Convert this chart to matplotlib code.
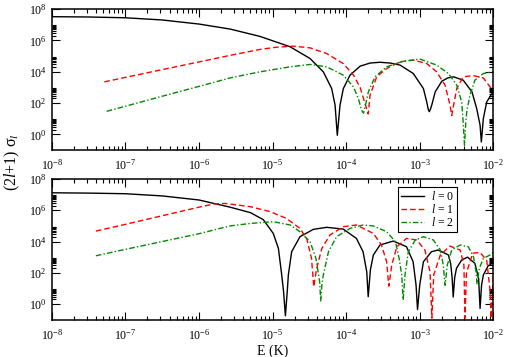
import numpy as np
import matplotlib
matplotlib.use('Agg')
import matplotlib.pyplot as plt
from matplotlib.ticker import LogFormatterSciNotation, NullFormatter

# values, as log10(E) and log10((2l+1) sigma_l)
# top panel
top_l0_logE = [-8.0, -7.5, -7.0, -6.5, -6.0, -5.577, -5.17, -4.762, -4.49, -4.31, -4.196, -4.15,
               -4.12, -4.083, -4.038, -3.947, -3.81, -3.675, -3.54, -3.40, -3.267, -3.087, -2.95,
               -2.905, -2.885, -2.87, -2.855, -2.837, -2.79, -2.70, -2.62, -2.54, -2.41, -2.29,
               -2.226, -2.18, -2.163, -2.136, -2.09, -2.0]
top_l0_logS = [7.51, 7.49, 7.44, 7.3, 7.04, 6.72, 6.25, 5.59, 4.84, 3.99, 2.92, 1.86,
               -0.06, 1.86, 2.92, 3.78, 4.35, 4.55, 4.6, 4.55, 4.42, 3.88, 2.92,
               2.07, 1.6, 1.45, 1.6, 1.86, 2.71, 3.39, 3.6, 3.67, 3.46, 2.71,
               1.64, 0.58, -0.49, 1.0, 2.07, 2.75]

top_l1_logE = [-7.285, -6.5, -6.0, -5.577, -5.17, -4.95, -4.72, -4.49, -4.265, -4.04, -3.90, -3.81,
               -3.75, -3.70, -3.675, -3.585, -3.45, -3.267, -3.087, -2.905, -2.77, -2.656, -2.588,
               -2.565, -2.54, -2.497, -2.41, -2.27, -2.136, -2.045, -2.0]
top_l1_logS = [3.35, 4.13, 4.62, 5.04, 5.42, 5.56, 5.63, 5.52, 5.16, 4.52, 3.78, 3.0,
               2.07, 1.3, 2.5, 3.67, 4.2, 4.63, 4.74, 4.52, 3.99, 3.14, 1.86,
               1.2, 1.86, 2.92, 3.67, 3.75, 3.6, 3.03, 2.8]

top_l2_logE = [-7.253, -6.5, -6.0, -5.577, -5.17, -4.76, -4.49, -4.265, -4.04, -3.90, -3.834, -3.79,
               -3.765, -3.74, -3.698, -3.607, -3.45, -3.222, -2.995, -2.77, -2.61, -2.497, -2.43,
               -2.41, -2.392, -2.375, -2.36, -2.317, -2.25, -2.136, -2.0]
top_l2_logS = [1.47, 2.43, 3.06, 3.6, 3.99, 4.31, 4.46, 4.31, 3.78, 3.03, 2.29, 1.54,
               1.35, 1.8, 2.71, 3.67, 4.31, 4.67, 4.8, 4.42, 3.88, 3.14, 2.07,
               0.79, -0.7, 0.7, 1.5, 2.5, 3.46, 3.88, 4.0]

# bottom panel
bot_l0_logE = [-8.0, -7.5, -7.0, -6.5, -6.0, -5.577, -5.30, -5.125, -4.99, -4.92, -4.875, -4.85,
               -4.825, -4.80, -4.785, -4.74, -4.627, -4.446, -4.265, -4.04, -3.86, -3.77, -3.72,
               -3.70, -3.67, -3.63, -3.54, -3.36, -3.18, -3.09, -3.05, -3.03, -3.0, -2.95, -2.84,
               -2.75, -2.61, -2.58, -2.56, -2.545, -2.525, -2.50, -2.43, -2.35, -2.25, -2.20,
               -2.18, -2.16, -2.136, -2.07, -2.0]
bot_l0_logS = [7.12, 7.1, 7.06, 6.92, 6.66, 6.2, 5.85, 5.4, 4.52, 3.56, 1.86, 0.8,
               -0.75, 0.8, 1.86, 3.35, 4.31, 4.78, 4.91, 4.8, 4.2, 3.35, 2.07,
               0.47, 2.2, 3.14, 3.78, 4.03, 3.67, 2.71, 1.22, -0.35, 1.22, 2.71, 3.35,
               3.46, 3.14, 2.6, 1.7, 0.45, 1.7, 2.3, 2.82, 3.0, 2.6, 1.64,
               -0.28, 1.2, 1.86, 2.45, 2.65]

bot_l1_logE = [-7.40, -7.0, -6.5, -6.0, -5.80, -5.645, -5.577, -5.30, -5.03, -4.81, -4.627, -4.536,
               -4.47, -4.44, -4.40, -4.33, -4.22, -4.04, -3.86, -3.63, -3.52, -3.45, -3.42,
               -3.38, -3.31, -3.18, -3.04, -2.93, -2.86, -2.835, -2.81, -2.72, -2.59, -2.45,
               -2.40, -2.385, -2.365, -2.28, -2.18, -2.09, -2.045, -2.03, -2.0]
bot_l1_logS = [4.67, 5.1, 5.65, 6.2, 6.4, 6.44, 6.4, 6.23, 5.91, 5.48, 4.84, 4.2,
               2.92, 1.1, 2.29, 3.56, 4.42, 4.95, 5.06, 4.52, 3.78, 2.71, 1.15,
               2.5, 3.67, 4.2, 4.1, 3.46, 2.07, -0.9, 1.86, 3.14, 3.71, 3.46,
               2.5, -0.9, 2.0, 3.26, 3.3, 2.8, 0.9, -0.9, 1.8]

bot_l2_logE = [-7.40, -7.0, -6.5, -6.0, -5.577, -5.30, -4.99, -4.76, -4.627, -4.49, -4.41, -4.36,
               -4.345, -4.33, -4.31, -4.24, -4.13, -3.947, -3.77, -3.63, -3.45, -3.33, -3.28,
               -3.245, -3.225, -3.20, -3.155, -3.06, -2.95, -2.815, -2.72, -2.68, -2.656, -2.625,
               -2.565, -2.45, -2.34, -2.27, -2.235, -2.222, -2.19, -2.136, -2.045, -2.0]
bot_l2_logS = [3.09, 3.5, 4.0, 4.5, 5.0, 5.16, 5.27, 5.06, 4.63, 3.99, 2.92, 1.43,
               0.2, 1.2, 1.86, 3.35, 4.31, 4.84, 5.06, 5.0, 4.63, 3.99, 2.92,
               1.86, 0.26, 1.86, 3.35, 4.1, 4.31, 4.1, 3.46, 2.5, 1.2, 2.5,
               3.46, 3.78, 3.67, 3.03, 2.07, 1.3, 2.29, 2.92, 3.14, 3.3]

legend_labels = [r'$l$ = 0', r'$l$ = 1', r'$l$ = 2']

# tick positions (only inside the view)
x_major = [10.0 ** n for n in range(-8, -1)]
x_minor = [k * 10.0 ** n for n in range(-8, -2) for k in range(2, 10)]
y_major = [10.0 ** n for n in range(0, 9, 2)]
y_minor = [k * 10.0 ** n for n in range(0, 8, 2) for k in range(2, 10)]

plt.rcParams['font.family'] = ['Liberation Serif', 'DejaVu Serif']
plt.rcParams['mathtext.fontset'] = 'custom'
plt.rcParams['mathtext.rm'] = 'Liberation Serif'
plt.rcParams['mathtext.it'] = 'Liberation Serif:italic'
plt.rcParams['font.size'] = 8.5

green = '#008b00'
styles = [dict(color='black', ls='-'),
          dict(color='red', dashes=(4.0, 2.2)),
          dict(color=green, dashes=(4.0, 1.6, 1.0, 1.6))]

fig = plt.figure(figsize=(5.05, 3.57), dpi=100)
ax1 = fig.add_axes([0.1024, 0.5798, 0.8745, 0.395])
ax2 = fig.add_axes([0.1024, 0.1045, 0.8745, 0.394])

panels = [(ax1, [(top_l0_logE, top_l0_logS), (top_l1_logE, top_l1_logS), (top_l2_logE, top_l2_logS)]),
          (ax2, [(bot_l0_logE, bot_l0_logS), (bot_l1_logE, bot_l1_logS), (bot_l2_logE, bot_l2_logS)])]

for ax, curves in panels:
    for (le, ls_), st, lab in zip(curves, styles, legend_labels):
        ax.plot(10 ** np.array(le), 10 ** np.array(ls_), lw=1.0, label=lab, **st)
    ax.set_xscale('log')
    ax.set_yscale('log')
    ax.set_xticks(x_major)
    ax.set_xticks(x_minor, minor=True)
    ax.set_yticks(y_major)
    ax.set_yticks(y_minor, minor=True)
    ax.set_xlim(1e-8, 1e-2)
    ax.set_ylim(1e-1, 1e8)
    ax.xaxis.set_major_formatter(LogFormatterSciNotation(base=10))
    ax.yaxis.set_major_formatter(LogFormatterSciNotation(base=10))
    ax.xaxis.set_minor_formatter(NullFormatter())
    ax.yaxis.set_minor_formatter(NullFormatter())
    ax.tick_params(which='both', direction='in', top=True, right=True, width=0.8)
    ax.tick_params(which='major', length=5.5)
    ax.tick_params(which='minor', length=2.8)
    ax.tick_params(axis='x', pad=6)
    ax.tick_params(axis='y', pad=3.5)
    for sp in ax.spines.values():
        sp.set_linewidth(1.1)

ax2.set_xlabel('E (K)', fontsize=10, labelpad=1)
fig.text(0.024, 0.546, r'(2$l$+1) σ$_l$', rotation=90, ha='center', va='center', fontsize=11.5)

leg = ax2.legend(loc='upper left', bbox_to_anchor=(0.7887, 0.4754), bbox_transform=fig.transFigure,
                 fancybox=False, edgecolor='black', framealpha=1, fontsize=8.5,
                 handlelength=1.9, handletextpad=0.6, borderpad=0.25, labelspacing=0.0,
                 borderaxespad=0)
leg.get_frame().set_linewidth(0.8)

fig.savefig('out.png', dpi=100)
